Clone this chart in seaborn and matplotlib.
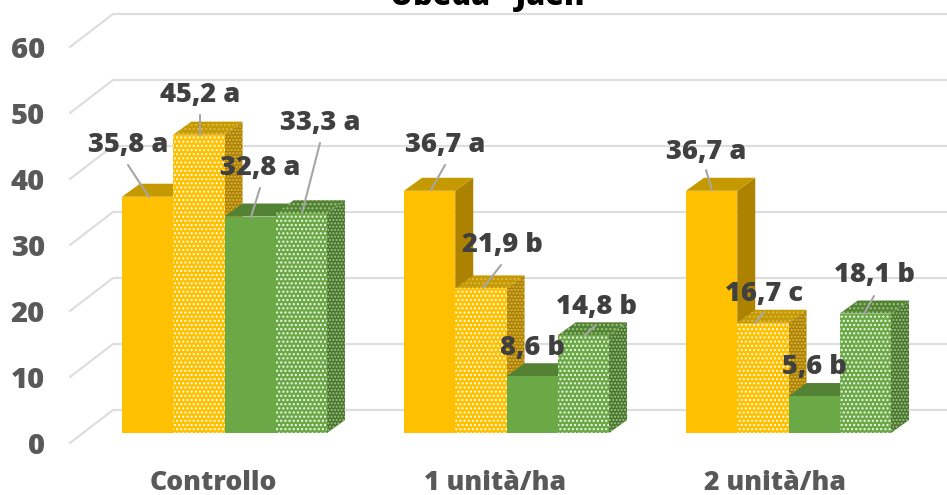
import matplotlib
matplotlib.use("Agg")
import matplotlib.pyplot as plt
from matplotlib.patches import Polygon
import pandas as pd
import seaborn as sns

categories = ["Controllo", "1 unità/ha", "2 unità/ha"]
series = ["A", "B", "C", "D"]
serie_a = [35.8, 36.7, 36.7]
serie_b = [45.2, 21.9, 16.7]
serie_c = [32.8, 8.6, 5.6]
serie_d = [33.3, 14.8, 18.1]
letters_a = ["a", "a", "a"]
letters_b = ["a", "b", "c"]
letters_c = ["a", "b", "b"]
letters_d = ["a", "b", "b"]
y_ticks = [0, 10, 20, 30, 40, 50, 60]
title = "Ubeda - Jaén"

W, H = 947, 495
PXY = 6.6      # pixels per unit
PXX = 282.0    # pixels per category
X0, Y0 = 224.5, 433.0
AL, AB = 60.0, 452.0   # axes left px, axes bottom px

sns.set_theme(style="white")
plt.rcParams["font.family"] = ["Open Sans", "DejaVu Sans"]
fig = plt.figure(figsize=(W / 100, H / 100), dpi=100)
ax = fig.add_axes([AL / W, (H - AB) / H, (W - AL) / W, AB / H])

df = pd.DataFrame({
    "cat": categories * 4,
    "ser": [s for s in series for _ in categories],
    "val": serie_a + serie_b + serie_c + serie_d,
})
front = {"A": "#FFC000", "B": "#FFC000", "C": "#6BA846", "D": "#6BA846"}
sns.barplot(data=df, x="cat", y="val", hue="ser", order=categories, hue_order=series,
            palette=front, saturation=1, width=0.727, gap=0, legend=False, ax=ax, errorbar=None)

ax.set_xlim((AL - X0) / PXX, (W - X0) / PXX)
ax.set_ylim((Y0 - AB) / PXY, Y0 / PXY)
for s in ax.spines.values():
    s.set_visible(False)
ax.set_xlabel("")
ax.set_ylabel("")

DX, DY = 18 / PXX, 13 / PXY
top_col = {"A": "#C49A00", "B": "#C49A00", "C": "#548235", "D": "#548235"}
side_col = {"A": "#AD8200", "B": "#AD8200", "C": "#4A7530", "D": "#4A7530"}
hatch_front = {"B": "#FFFBEA", "D": "#F2FAEC"}
hatch_side = {"B": "#DDB84E", "D": "#9CC77F"}

bars = list(ax.patches)[:12]
z = 3
order = sorted(range(12), key=lambda k: (k % 3, k // 3))
for k in order:
    b = bars[k]
    s = series[k // 3]
    x0, x1, v = b.get_x(), b.get_x() + b.get_width(), b.get_height()
    hatched = s in hatch_front
    side = Polygon([(x1, 0), (x1 + DX, DY), (x1 + DX, v + DY), (x1, v)], closed=True,
                   facecolor=side_col[s], edgecolor=hatch_side[s] if hatched else side_col[s],
                   hatch="....." if hatched else None, linewidth=0, zorder=z)
    topf = Polygon([(x0, v), (x1, v), (x1 + DX, v + DY), (x0 + DX, v + DY)], closed=True,
                   facecolor=top_col[s], edgecolor=hatch_side[s] if hatched else top_col[s],
                   hatch="...." if hatched else None, linewidth=0, zorder=z)
    ax.add_patch(side)
    ax.add_patch(topf)
    b.set_zorder(z + 0.5)
    b.set_linewidth(0)
    if hatched:
        b.set_edgecolor(hatch_front[s])
        b.set_hatch("....")
    z += 1

# gridlines on the floor edge and the back wall
for v in y_ticks:
    back = v + 23 / PXY
    frontv = v - 10 / PXY
    ax.plot([(70 - X0) / PXX, (113 - X0) / PXX, (W - X0) / PXX], [frontv, back, back],
            color="#DEDEDE", lw=1.6, zorder=1, clip_on=False, solid_joinstyle="miter")

ax.set_yticks([v - 10 / PXY for v in y_ticks], [str(v) for v in y_ticks])
ax.tick_params(axis="y", length=0, pad=11, labelsize=21, labelcolor="#595959")
ax.set_xticks([(213 - X0) / PXX, (495 - X0) / PXX, (775 - X0) / PXX], categories)
ax.tick_params(axis="x", length=0, pad=13, labelsize=19.2, labelcolor="#595959")
for t in ax.get_xticklabels() + ax.get_yticklabels():
    t.set_fontweight(800)

ax.text((487 - X0) / PXX, (Y0 - 5) / PXY, title, ha="center", va="baseline", fontsize=22,
        fontweight=800, color="black", clip_on=False)

# data labels: pixel position of the text, leader start and end
vals = serie_a + serie_b + serie_c + serie_d
lets = letters_a + letters_b + letters_c + letters_d
label_px = [(128, 145), (445, 145), (706, 152),
            (200, 95), (502, 245), (764, 294),
            (260, 168), (533, 348), (814, 367),
            (320, 123), (596, 307), (874, 275)]
leader_px = [((128, 165), (149, 197)), ((445, 165), (431, 190)), ((706, 170), (712, 190)),
             ((200, 115), (200, 135)), ((501, 265), (483, 288)), ((764, 312), (755, 323)),
             ((260, 188), (251, 217)), None, None,
             ((320, 143), (302, 213)), ((596, 325), (585, 335)), ((874, 296), (864, 314))]

def d(p):
    return ((p[0] - X0) / PXX, (Y0 - p[1]) / PXY)

for v, l, p, ld in zip(vals, lets, label_px, leader_px):
    txt = f"{v:.1f}".replace(".", ",") + " " + l
    ax.text(*d(p), txt, ha="center", va="center", fontsize=19.6, fontweight=800,
            color="#404040", zorder=60)
    if ld:
        a, b_ = d(ld[0]), d(ld[1])
        ax.plot([a[0], b_[0]], [a[1], b_[1]], color="#A6A6A6", lw=1.5, zorder=50)

fig.savefig("out.png", dpi=100)
